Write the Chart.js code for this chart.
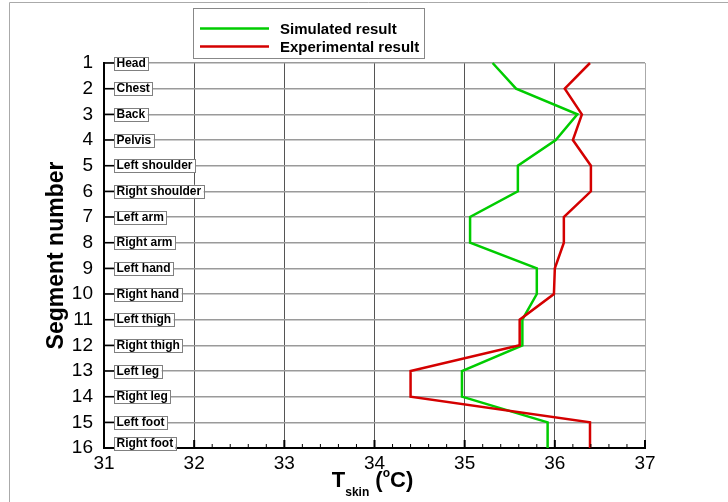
<!DOCTYPE html>
<html>
<head>
<meta charset="utf-8">
<script src="https://cdn.jsdelivr.net/npm/chart.js@4.4.1/dist/chart.umd.min.js"></script>
<style>
  html, body { margin: 0; padding: 0; background: #fff; }
  #wrap { position: relative; width: 728px; height: 502px; }
</style>
</head>
<body>
<div id="wrap"><canvas id="c"></canvas></div>
<script>
// ---- data ----
const segments = ["Head", "Chest", "Back", "Pelvis", "Left shoulder", "Right shoulder",
  "Left arm", "Right arm", "Left hand", "Right hand", "Left thigh", "Right thigh",
  "Left leg", "Right leg", "Left foot", "Right foot"];
const segmentNumbers = [1, 2, 3, 4, 5, 6, 7, 8, 9, 10, 11, 12, 13, 14, 15, 16];
const simulated = [35.31, 35.57, 36.25, 36.01, 35.59, 35.59, 35.06, 35.06,
  35.80, 35.80, 35.64, 35.64, 34.97, 34.97, 35.92, 35.92];
const experimental = [36.39, 36.11, 36.30, 36.20, 36.40, 36.40, 36.10, 36.10,
  36.00, 35.99, 35.61, 35.61, 34.40, 34.40, 36.39, 36.39];
const xTicks = [31, 32, 33, 34, 35, 36, 37];
const seriesLabels = ["Simulated result", "Experimental result"];

const FONT = "'Liberation Sans', Arial, Helvetica, sans-serif";
const GREEN = '#00cc00';
const RED = '#d40000';

function pts(vals) { return vals.map((v, i) => ({ x: v, y: segmentNumbers[i] })); }

const decor = {
  id: 'decor',
  beforeDraw(chart) {
    const ctx = chart.ctx;
    ctx.save();
    ctx.strokeStyle = '#aaaaaa';
    ctx.lineWidth = 1;
    ctx.beginPath();
    ctx.moveTo(9.5, 502); ctx.lineTo(9.5, 2.5); ctx.lineTo(728, 2.5);
    ctx.stroke();
    ctx.restore();
  },
  afterDraw(chart) {
    const ctx = chart.ctx;
    const xs = chart.scales.x, ys = chart.scales.y;
    const area = chart.chartArea;
    ctx.save();
    // bottom ticks (inward)
    ctx.strokeStyle = '#000';
    for (let v = xTicks[0]; v <= xTicks[xTicks.length - 1] + 1e-9; v += 0.2) {
      const r = Math.round(v * 10) / 10;
      const px = xs.getPixelForValue(r);
      const major = Math.abs(r - Math.round(r)) < 1e-6;
      ctx.lineWidth = major ? 2 : 1;
      ctx.beginPath();
      ctx.moveTo(px, area.bottom);
      ctx.lineTo(px, area.bottom - (major ? 8 : 4));
      ctx.stroke();
    }
    // left ticks (inward) and boxed segment labels
    ctx.font = 'bold 12px ' + FONT;
    ctx.textBaseline = 'middle';
    segments.forEach((name, i) => {
      const py = ys.getPixelForValue(segmentNumbers[i]);
      ctx.strokeStyle = '#000';
      ctx.lineWidth = 1.5;
      ctx.beginPath();
      ctx.moveTo(area.left, py);
      ctx.lineTo(area.left + 10, py);
      ctx.stroke();
      const w = ctx.measureText(name).width + 5;
      const h = 13;
      let top = py - h / 2;
      if (top + h > area.bottom + 2) top = area.bottom + 2 - h;
      const bx = area.left + 10;
      ctx.fillStyle = '#fff';
      ctx.fillRect(bx, top, w, h);
      ctx.strokeStyle = '#808080';
      ctx.lineWidth = 1;
      ctx.strokeRect(Math.round(bx) + 0.5, Math.round(top) + 0.5, Math.round(w), Math.round(h));
      ctx.fillStyle = '#000';
      ctx.fillText(name, bx + 2.5, top + h / 2 + 0.5);
    });
    // legend box
    ctx.fillStyle = '#fff';
    ctx.fillRect(193.5, 8.5, 231, 50);
    ctx.strokeStyle = '#888';
    ctx.lineWidth = 1;
    ctx.strokeRect(193.5, 8.5, 231, 50);
    const items = [{ c: GREEN, t: seriesLabels[0], y: 28.5, by: 33.5 },
                   { c: RED, t: seriesLabels[1], y: 46.5, by: 51.5 }];
    ctx.font = 'bold 15px ' + FONT;
    ctx.textBaseline = 'alphabetic';
    items.forEach(it => {
      ctx.strokeStyle = it.c;
      ctx.lineWidth = 2.5;
      ctx.beginPath();
      ctx.moveTo(200, it.y); ctx.lineTo(269, it.y);
      ctx.stroke();
      ctx.fillStyle = '#000';
      ctx.fillText(it.t, 280, it.by);
    });
    // x-axis title: T_skin (°C)
    const big = 'bold 22px ' + FONT, small = 'bold 12px ' + FONT;
    const parts = [
      { t: 'T', f: big, dy: 0 },
      { t: 'skin', f: small, dy: 9 },
      { t: ' (', f: big, dy: 0 },
      { t: 'o', f: small, dy: -10 },
      { t: 'C)', f: big, dy: 0 }
    ];
    let total = 0;
    parts.forEach(p => { ctx.font = p.f; p.w = ctx.measureText(p.t).width; total += p.w; });
    let x = (area.left + area.right) / 2 - total / 2 - 2;
    const base = 487;
    ctx.textAlign = 'left';
    parts.forEach(p => {
      ctx.font = p.f;
      ctx.fillText(p.t, x, base + p.dy);
      x += p.w;
    });
    ctx.restore();
  }
};

new Chart(document.getElementById('c'), {
  type: 'line',
  data: {
    datasets: [
      { label: seriesLabels[0], data: pts(simulated), borderColor: GREEN, backgroundColor: GREEN,
        borderWidth: 2.5, pointRadius: 0, tension: 0, order: 1, clip: false },
      { label: seriesLabels[1], data: pts(experimental), borderColor: RED, backgroundColor: RED,
        borderWidth: 2.5, pointRadius: 0, tension: 0, order: 0, clip: false }
    ]
  },
  options: {
    responsive: true,
    maintainAspectRatio: false,
    animation: false,
    events: [],
    layout: { padding: { top: 63, right: 83, left: 0, bottom: 0 } },
    plugins: { legend: { display: false }, tooltip: { enabled: false }, title: { display: false } },
    scales: {
      x: {
        type: 'linear', position: 'bottom', min: 31, max: 37,
        afterFit(s) { s.height = 54; },
        afterBuildTicks(s) { s.ticks = xTicks.map(v => ({ value: v })); },
        ticks: { font: { family: FONT, size: 19 }, color: '#000', padding: 4, maxRotation: 0, autoSkip: false },
        grid: {
          drawTicks: false,
          color: (c) => (c.tick && c.tick.value === 37) ? '#aaaaaa' : '#555555',
          lineWidth: 1
        },
        border: { display: true, color: '#000', width: 2 }
      },
      y: {
        type: 'linear', position: 'left', min: 1, max: 16, reverse: true,
        afterFit(s) { s.width = 104; },
        afterBuildTicks(s) { s.ticks = segmentNumbers.map(v => ({ value: v })); },
        ticks: { font: { family: FONT, size: 19 }, color: '#000', padding: 11, autoSkip: false },
        grid: { drawTicks: false, color: '#9a9a9a', lineWidth: 1.5 },
        border: { display: true, color: '#000', width: 2 },
        title: { display: true, text: 'Segment number', color: '#000',
          font: { family: FONT, size: 23, weight: 'bold' }, padding: { top: 43, bottom: 0 } }
      }
    }
  },
  plugins: [decor]
});
</script>
</body>
</html>
